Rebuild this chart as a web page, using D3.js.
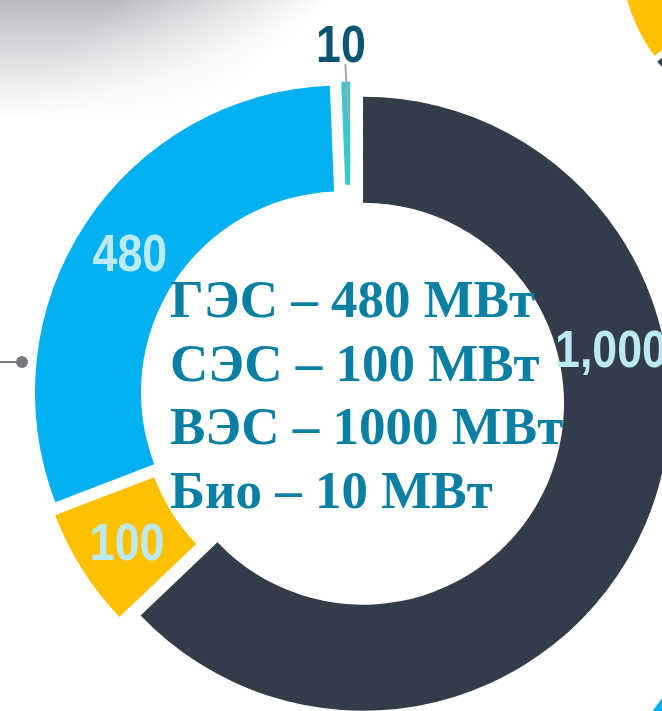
<!DOCTYPE html>
<html>
<head>
<meta charset="utf-8">
<script src="https://cdn.jsdelivr.net/npm/d3@7"></script>
<style>
  body { margin: 0; background: #fff; }
  svg { display: block; }
</style>
</head>
<body>
<div id="chart"></div>
<script>
// Data
const categories = ["ВЭС", "СЭС", "ГЭС", "Био"];
const values = [1000, 100, 480, 10];
const valueLabels = ["1,000", "100", "480", "10"];
const colors = ["#333d4a", "#ffc000", "#00b0f0", "#3cc8c8"];
const legendLines = ["ГЭС – 480 МВт", "СЭС – 100 МВт", "ВЭС – 1000 МВт", "Био – 10 МВт"];

document.addEventListener('DOMContentLoaded', function () {

    const width = 662;
    const height = 711;
    const cx = 352;
    const cy = 399;
    const outerR = 307;
    const innerR = 201;
    const explode = 12;

    const svg = d3.select("#chart").append("svg")
        .attr("width", width)
        .attr("height", height);

    const defs = svg.append("defs");

    // vertical shading of the grey slide shadow
    const shade = defs.append("linearGradient")
        .attr("id", "shade")
        .attr("gradientUnits", "userSpaceOnUse")
        .attr("x1", 0).attr("y1", 0).attr("x2", 0).attr("y2", 120);
    shade.append("stop").attr("offset", 0).attr("stop-color", "#babac0");
    shade.append("stop").attr("offset", 0.35).attr("stop-color", "#d5d5d9");
    shade.append("stop").attr("offset", 0.7).attr("stop-color", "#ededee");
    shade.append("stop").attr("offset", 1).attr("stop-color", "#ffffff");

    // diagonal fade towards the right
    const fade = defs.append("linearGradient")
        .attr("id", "fade")
        .attr("gradientUnits", "userSpaceOnUse")
        .attr("x1", 140).attr("y1", -20).attr("x2", 235).attr("y2", 85);
    fade.append("stop").attr("offset", 0).attr("stop-color", "#fff");
    fade.append("stop").attr("offset", 1).attr("stop-color", "#000");
    defs.append("mask")
        .attr("id", "fadeMask")
        .append("rect")
        .attr("x", 0).attr("y", 0).attr("width", 400).attr("height", 140)
        .attr("fill", "url(#fade)");

    svg.append("rect")
        .attr("x", 0).attr("y", 0)
        .attr("width", 400).attr("height", 120)
        .attr("fill", "url(#shade)")
        .attr("mask", "url(#fadeMask)");

    // bits of neighbouring charts cut by the screenshot
    const side = d3.arc();
    const sideG = svg.append("g").attr("transform", "translate(800,-50)");
    sideG.append("path")
        .attr("d", side({ innerRadius: 80, outerRadius: 180, startAngle: 234 * Math.PI / 180, endAngle: 330 * Math.PI / 180 }))
        .attr("fill", "#ffc000");
    sideG.append("path")
        .attr("d", side({ innerRadius: 80, outerRadius: 181, startAngle: 180 * Math.PI / 180, endAngle: 232 * Math.PI / 180 }))
        .attr("fill", "#333d4a");
    svg.append("circle")
        .attr("cx", 779).attr("cy", 792).attr("r", 150)
        .attr("fill", "#00b0f0");

    // grey connector on the left
    svg.append("line")
        .attr("x1", 0).attr("y1", 362)
        .attr("x2", 22).attr("y2", 362)
        .attr("stroke", "#77787f")
        .attr("stroke-width", 2);
    svg.append("circle")
        .attr("cx", 22).attr("cy", 362).attr("r", 6)
        .attr("fill", "#77787f");

    // Donut
    const pie = d3.pie().sort(null).value(d => d)(values);
    const arc = d3.arc().innerRadius(innerR).outerRadius(outerR);

    const g = svg.append("g").attr("transform", `translate(${cx},${cy})`);

    const offset = d => {
        const a = (d.startAngle + d.endAngle) / 2;
        return [Math.sin(a) * explode, -Math.cos(a) * explode];
    };

    g.selectAll("path.slice")
        .data(pie)
        .enter()
        .append("path")
        .attr("class", "slice")
        .attr("transform", d => `translate(${offset(d)})`)
        .attr("d", arc)
        .attr("fill", (d, i) => colors[i])
        .attr("stroke", "#fff")
        .attr("stroke-width", (d, i) => i === 3 ? 3 : 0);

    // Label placement: at the centroid unless moved in the original
    const labelAngle = { 0: 77.5, 3: -1.8 };
    const labelRadius = { 3: 344 };
    const labelColor = ["#bdeaf2", "#bdeaf2", "#bdeaf2", "#0b5572"];

    // leader line for the small slice
    const small = pie[3];
    const so = offset(small);
    const p1 = [Math.sin(-1.15 * Math.PI / 180) * 323 + so[0], -Math.cos(-1.15 * Math.PI / 180) * 323 + so[1]];
    const p2 = [Math.sin(-0.6 * Math.PI / 180) * 266 + so[0], -Math.cos(-0.6 * Math.PI / 180) * 266 + so[1]];
    g.append("line")
        .attr("x1", p1[0]).attr("y1", p1[1])
        .attr("x2", p2[0]).attr("y2", p2[1])
        .attr("stroke", "#a3a7bb")
        .attr("stroke-width", 2);

    g.selectAll("text.val")
        .data(pie)
        .enter()
        .append("text")
        .attr("class", "val")
        .attr("transform", (d, i) => {
            const o = offset(d);
            let x, y;
            if (labelAngle[i] !== undefined) {
                const a = labelAngle[i] * Math.PI / 180;
                const r = labelRadius[i] || (innerR + outerR) / 2;
                x = Math.sin(a) * r;
                y = -Math.cos(a) * r;
            } else {
                [x, y] = arc.centroid(d);
            }
            return `translate(${x + o[0]},${y + o[1]}) scale(0.86,1)`;
        })
        .attr("text-anchor", "middle")
        .attr("dy", "0.36em")
        .attr("font-family", "'Liberation Sans', Arial, sans-serif")
        .attr("font-weight", "bold")
        .attr("font-size", 52)
        .attr("fill", (d, i) => labelColor[i])
        .text((d, i) => valueLabels[i]);

    // Text in the hole
    svg.selectAll("text.legend")
        .data(legendLines)
        .enter()
        .append("text")
        .attr("class", "legend")
        .attr("x", 170)
        .attr("y", (d, i) => 317 + i * 63.7)
        .attr("font-family", "'Liberation Serif', 'Times New Roman', serif")
        .attr("font-weight", "bold")
        .attr("font-size", 53)
        .attr("fill", "#0a7fa4")
        .text(d => d);
});
</script>
</body>
</html>
